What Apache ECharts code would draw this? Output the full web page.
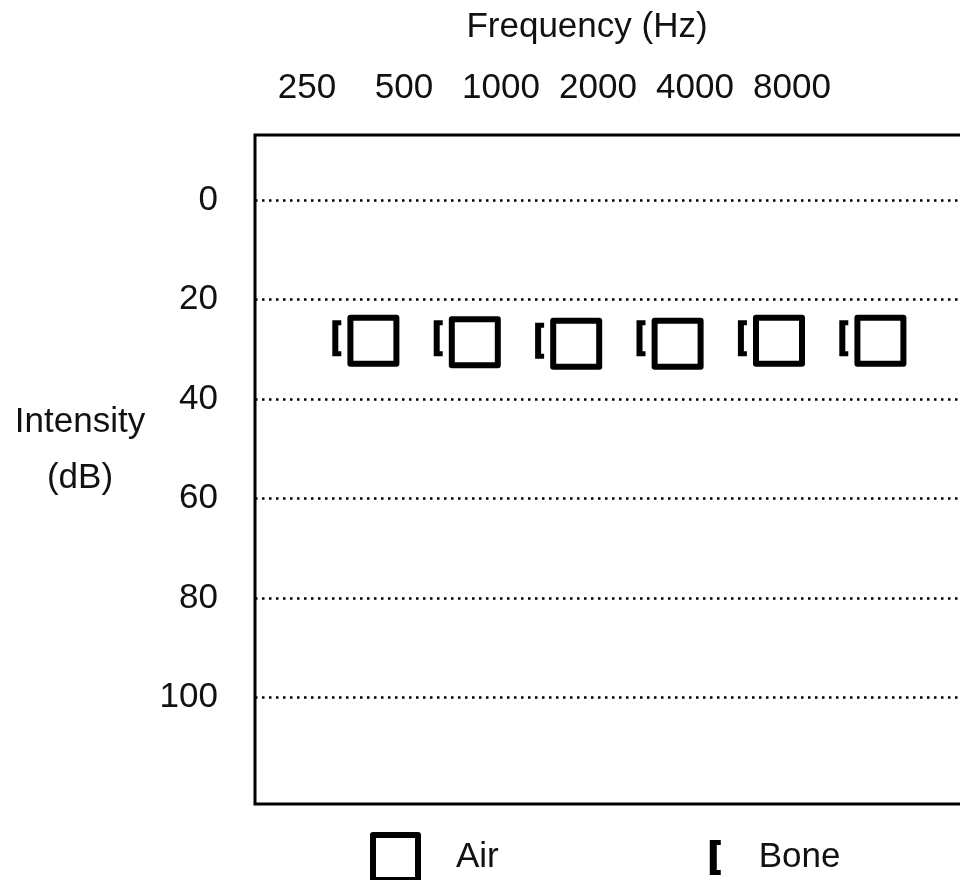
<!DOCTYPE html>
<html>
<head>
<meta charset="utf-8">
<script src="https://cdn.jsdelivr.net/npm/echarts@6/dist/echarts.min.js"></script>
<style>
html, body { margin: 0; padding: 0; background: #ffffff; }
#chart { width: 960px; height: 880px; }
</style>
</head>
<body>
<div id="chart"></div>
<script>
// ---- data ----
const frequencies = [250, 500, 1000, 2000, 4000, 8000];
const frequencyLabels = ['250', '500', '1000', '2000', '4000', '8000'];
const airThresholds = [28.3, 28.6, 28.9, 28.9, 28.3, 28.3];
const boneThresholds = [27.8, 27.8, 28.3, 27.8, 27.8, 27.8];
const intensityTicks = [0, 20, 40, 60, 80, 100];
const seriesNames = ['Air', 'Bone'];
const xTitle = 'Frequency (Hz)';
const yTitle = 'Intensity\n(dB)';

// ---- styling ----
const FONT = "'Liberation Sans', Arial, Helvetica, sans-serif";
const INK = '#111111';
const FS = 35;
const BRACKET = 'path://M0 0H9V5H6V31H9V36H0Z';
const BRACKET_LEGEND = 'path://M-34 -5M11 40M0 0H11V5H7V30H11V35H0Z';

const airData = frequencies.map((f, i) => [f, airThresholds[i]]);
const boneData = frequencies.map((f, i) => [f, boneThresholds[i]]);

const chart = echarts.init(document.getElementById('chart'), null, { renderer: 'canvas' });

chart.setOption({
  animation: false,
  backgroundColor: '#ffffff',
  textStyle: { fontFamily: FONT, color: INK },
  title: [
    {
      text: xTitle,
      left: 587,
      top: 10,
      padding: 0,
      textAlign: 'center',
      textStyle: { fontFamily: FONT, fontSize: FS, fontWeight: 'normal', color: INK }
    },
    {
      text: yTitle,
      left: 80,
      top: 394,
      padding: 0,
      textAlign: 'center',
      textStyle: { fontFamily: FONT, fontSize: FS, fontWeight: 'normal', color: INK, lineHeight: 56 }
    }
  ],
  legend: {
    left: 370,
    top: 832,
    padding: 0,
    itemWidth: 45,
    itemHeight: 45,
    itemGap: 177,
    selectedMode: false,
    textStyle: { fontFamily: FONT, fontSize: FS, color: INK, padding: [7, 0, 0, 33] },
    data: [
      { name: seriesNames[0], icon: 'rect',
        itemStyle: { color: '#ffffff', borderColor: '#000000', borderWidth: 6, borderJoin: 'round' } },
      { name: seriesNames[1], icon: BRACKET_LEGEND,
        itemStyle: { color: '#000000', borderWidth: 0 } }
    ]
  },
  grid: [
    { left: 255, top: 135, right: -2, bottom: 76, show: true, borderWidth: 3, borderColor: '#000000',
      backgroundColor: 'transparent', outerBoundsMode: 'none', containLabel: false },
    { left: 258.5, top: 120, right: 119.5, height: 10, show: false, outerBoundsMode: 'none', containLabel: false }
  ],
  xAxis: [
    {
      gridIndex: 0,
      type: 'log',
      logBase: 2,
      min: frequencies[0] * Math.pow(2, -1.1677),
      max: frequencies[0] * Math.pow(2, -1.1677 + 6.9724),
      axisLine: { show: false },
      axisTick: { show: false },
      axisLabel: { show: false },
      splitLine: { show: false }
    },
    {
      gridIndex: 1,
      type: 'category',
      position: 'top',
      data: frequencyLabels,
      boundaryGap: true,
      axisLine: { show: false },
      axisTick: { show: false },
      splitLine: { show: false },
      axisLabel: {
        show: true, interval: 0, margin: 32, verticalAlign: 'middle',
        fontFamily: FONT, fontSize: FS, color: INK
      }
    }
  ],
  yAxis: [
    {
      gridIndex: 0,
      type: 'value',
      inverse: true,
      min: -13.05,
      max: 121.4,
      axisLine: { show: false },
      axisTick: { show: false, customValues: intensityTicks },
      axisLabel: {
        show: true, margin: 37, customValues: intensityTicks,
        fontFamily: FONT, fontSize: FS, color: INK
      },
      splitLine: {
        show: true,
        lineStyle: { color: '#000000', width: 2.5, type: [2.5, 4.5] }
      }
    },
    {
      gridIndex: 1,
      type: 'value',
      show: false
    }
  ],
  series: [
    {
      name: seriesNames[0],
      type: 'scatter',
      xAxisIndex: 0,
      yAxisIndex: 0,
      data: airData,
      symbol: 'rect',
      symbolSize: 46,
      itemStyle: { color: '#ffffff', borderColor: '#000000', borderWidth: 6, borderJoin: 'round', opacity: 1 },
      emphasis: { disabled: true },
      z: 3
    },
    {
      name: seriesNames[1],
      type: 'scatter',
      xAxisIndex: 0,
      yAxisIndex: 0,
      data: boneData,
      symbol: BRACKET,
      symbolSize: [9, 36],
      symbolOffset: [-36.6, 0],
      itemStyle: { color: '#000000', borderWidth: 0, opacity: 1 },
      emphasis: { disabled: true },
      z: 3
    }
  ]
});
</script>
</body>
</html>
